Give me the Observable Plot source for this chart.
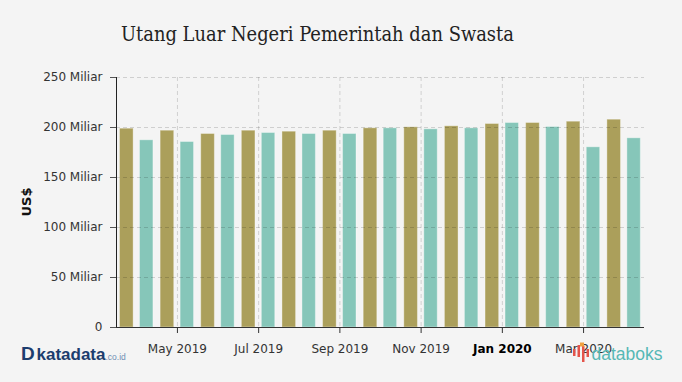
<!DOCTYPE html>
<html><head><meta charset="utf-8">
<script src="https://cdn.jsdelivr.net/npm/d3@7"></script>
<script src="https://cdn.jsdelivr.net/npm/@observablehq/plot@0.6"></script>
<style>
html,body{margin:0;padding:0;background:#f4f4f4;}
#wrap{position:relative;width:682px;height:382px;overflow:hidden;background:#f4f4f4;}
#chart{position:absolute;left:0;top:0;}
#deco{position:absolute;left:0;top:0;pointer-events:none;}
</style></head>
<body>
<div id="wrap">
  <div id="chart"></div>
  <svg id="deco" width="682" height="382">
    <text x="121" y="41" font-family="'DejaVu Serif Condensed','DejaVu Serif',serif" font-stretch="condensed" font-size="19.9" fill="#222">Utang Luar Negeri Pemerintah dan Swasta</text>
    <text x="21" y="359.5" font-family="'Liberation Sans',Arial,sans-serif" font-weight="bold" font-size="19" fill="#1c3d6e">D</text>
    <text x="36.5" y="359.5" font-family="'Liberation Sans',Arial,sans-serif" font-weight="bold" font-size="17" fill="#1c3d6e">katadata</text>
    <text x="105.5" y="359.5" font-family="'Liberation Sans',Arial,sans-serif" font-size="8.5" fill="#6f8db3">.co.id</text>
    <g fill="#e4544a">
      <rect x="573" y="349" width="2.5" height="7"/>
      <rect x="577.5" y="345" width="2.5" height="12"/>
      <rect x="582" y="346" width="2.5" height="16"/>
      <rect x="586.5" y="349" width="2.5" height="8"/>
    </g>
    <rect x="580" y="342.5" width="4" height="4" fill="#f0a040"/>
    <text x="591.5" y="360" font-family="'Liberation Sans',Arial,sans-serif" font-size="17.5" fill="#56b8b5">databoks</text>
  </svg>
</div>
<script>
// Months (bar groups), Apr 2019 – Apr 2020
const months = ["2019-04","2019-05","2019-06","2019-07","2019-08","2019-09","2019-10","2019-11","2019-12","2020-01","2020-02","2020-03","2020-04"];
// Gold series (US$ Miliar)
const swasta = [198.8,196.8,193.5,196.8,195.8,196.8,199.2,200.2,201.2,203.5,204.5,205.8,207.8];
// Teal series (US$ Miliar)
const pemerintah = [187.2,185.5,192.5,194.5,193.5,193.5,199.2,198.2,199.2,204.5,200.5,180.2,189.2];
// X tick months and labels
const tickMonths = ["2019-05","2019-07","2019-09","2019-11","2020-01","2020-03"];
const tickLabels = ["May 2019","Jul 2019","Sep 2019","Nov 2019","Jan 2020","Mar 2020"];
const boldTick = "2020-01";
// Y ticks and labels
const yTicks = [0,50,100,150,200,250];
const yTickLabels = ["0","50 Miliar","100 Miliar","150 Miliar","200 Miliar","250 Miliar"];
const yLabel = "US$";

const data = months.map((m,i)=>({month:m, swasta:swasta[i], pemerintah:pemerintah[i]}));
const xFmt = m => tickLabels[tickMonths.indexOf(m)];

const plot = Plot.plot({
  width:682, height:382,
  marginLeft:116, marginRight:38, marginTop:77, marginBottom:55,
  style:{background:"transparent", fontFamily:"'DejaVu Sans',Verdana,sans-serif", fontSize:"12px", color:"#333"},
  x:{type:"band", domain:months, padding:0, round:false, axis:null},
  y:{domain:[0,250], axis:null},
  marks:[
    Plot.barY(data,{x:"month", y:"swasta", fill:"#ab9f5b", insetLeft:3.5, insetRight:23.5, stroke:"#fff", strokeOpacity:0.35, strokeWidth:1}),
    Plot.barY(data,{x:"month", y:"pemerintah", fill:"#86c6b9", insetLeft:23.5, insetRight:3.7, stroke:"#fff", strokeOpacity:0.35, strokeWidth:1}),
    Plot.gridY({ticks:yTicks.slice(1), stroke:"#000", strokeOpacity:0.15, strokeDasharray:"4,3"}),
    Plot.gridX({ticks:tickMonths, stroke:"#000", strokeOpacity:0.15, strokeDasharray:"4,3"}),
    Plot.ruleY([0],{stroke:"#333", strokeWidth:1}),
    Plot.axisY({ticks:yTicks, tickFormat:d=>yTickLabels[yTicks.indexOf(d)], tickSize:6, tickPadding:8, fill:"#333", stroke:"#555", label:null}),
    Plot.axisX({ticks:tickMonths.filter(m=>m!==boldTick), tickFormat:xFmt, tickSize:6, tickPadding:11, fill:"#333", stroke:"#333", label:null}),
    Plot.axisX({ticks:[boldTick], tickFormat:xFmt, tickSize:6, tickPadding:11, fill:"#000", stroke:"#333", fontWeight:"bold", label:null})
  ]
});
document.getElementById("chart").appendChild(plot);

// y-axis line and rotated axis title, positioned from the plot's scales
const xr = plot.scale("x").range, yr = plot.scale("y").range;
const svg = d3.select(plot);
svg.append("line")
  .attr("x1", xr[0]+0.5).attr("x2", xr[0]+0.5)
  .attr("y1", yr[0]).attr("y2", yr[1])
  .attr("stroke","#222");
svg.append("text")
  .attr("transform",`translate(31,${(yr[0]+yr[1])/2})rotate(-90)`)
  .attr("text-anchor","middle")
  .attr("font-weight","bold").attr("font-size",13)
  .attr("fill","#111")
  .text(yLabel);
</script>
</body></html>
